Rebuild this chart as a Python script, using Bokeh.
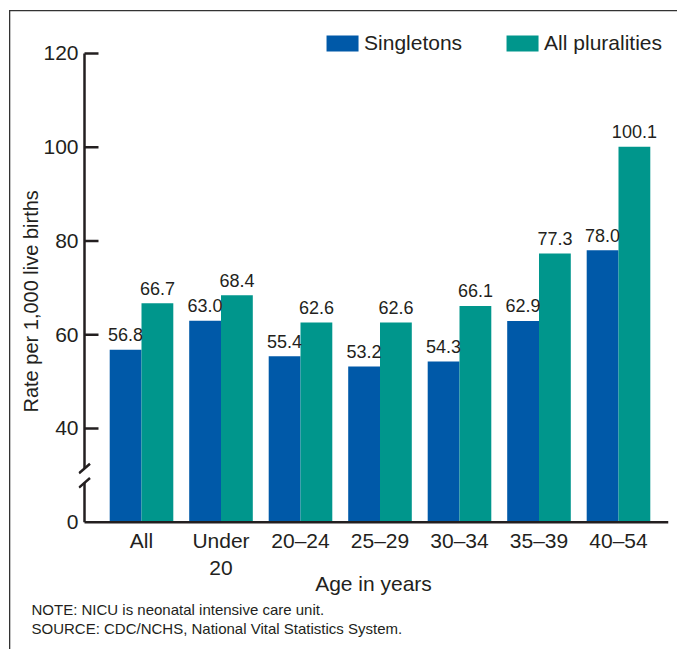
from bokeh.plotting import figure
from bokeh.models import Range1d, FixedTicker, ColumnDataSource, Title
from bokeh.transform import dodge
from bokeh.core.properties import value
from bokeh.embed import file_html
from bokeh.resources import INLINE

# ---- data ----
categories = ["All", "Under\n20", "20–24", "25–29", "30–34", "35–39", "40–54"]
singletons = [56.8, 63.0, 55.4, 53.2, 54.3, 62.9, 78.0]
all_pluralities = [66.7, 68.4, 62.6, 62.6, 66.1, 77.3, 100.1]
series_names = ["Singletons", "All pluralities"]
y_ticks = [20, 40, 60, 80, 100, 120]
y_tick_labels = ["0", "40", "60", "80", "100", "120"]
base = 20                      # axis position that stands for 0 (below the break)
break_low, break_high = 28.4, 31.45

colors = ["#0059a8", "#00968c"]
FONT = "Liberation Sans"
INK = "#231f20"

# ---- geometry of the axes (data units) ----
XMIN, XMAX = -0.7925, 6.629
YMIN, YMAX = 19.083, 125.963
XAXIS = -0.717                 # x position of the y axis line
TICK = 0.176                   # inward tick length
SLX, SLY = 0.069, 1.02         # half size of the break slashes
LABEL_LIFT = 3.24              # gap between bar top and value label centre

p = figure(width=677, height=649, output_backend="svg", toolbar_location=None,
           x_range=Range1d(XMIN, XMAX), y_range=Range1d(YMIN, YMAX),
           min_border_left=78, min_border_right=9, min_border_top=25,
           min_border_bottom=123)
p.outline_line_color = None
p.xgrid.visible = False
p.ygrid.visible = False
p.background_fill_color = "white"
p.border_fill_alpha = 0
p.styles = {"box-shadow": "inset 9px 10px 0 0 #ffffff, inset 10.3px 11.3px 0 0 #333333"}

src = ColumnDataSource(dict(
    x=list(range(len(categories))),
    s=singletons,
    a=all_pluralities,
    s_lbl=[f"{v:.1f}" for v in singletons],
    a_lbl=[f"{v:.1f}" for v in all_pluralities],
))

p.vbar(x=dodge("x", -0.2, range=p.x_range), top="s", bottom=base, width=0.4,
       source=src, fill_color=colors[0], line_color=None, legend_label=series_names[0])
p.vbar(x=dodge("x", 0.2, range=p.x_range), top="a", bottom=base, width=0.4,
       source=src, fill_color=colors[1], line_color=None, legend_label=series_names[1])

for col, lbl, off in (("s", "s_lbl", -0.2), ("a", "a_lbl", 0.2)):
    p.text(x=dodge("x", off, range=p.x_range), y=dodge(col, LABEL_LIFT, range=p.y_range),
           text=lbl, source=src,
           text_align="center", text_baseline="middle",
           text_font=value(FONT), text_font_size="18px", text_color=INK)

# ---- axis lines, ticks and break ----
p.segment(x0=[XAXIS, XAXIS], y0=[base, break_high], x1=[XAXIS, XAXIS],
          y1=[break_low, y_ticks[-1]], line_width=2.5, line_color=INK)
p.segment(x0=[XAXIS] * (len(y_ticks) - 1), x1=[XAXIS + TICK] * (len(y_ticks) - 1),
          y0=y_ticks[1:], y1=y_ticks[1:], line_width=2.5, line_color=INK)
p.segment(x0=[XAXIS], x1=[XMAX], y0=[base], y1=[base], line_width=2.5, line_color=INK)
p.segment(x0=[XAXIS - SLX] * 2, x1=[XAXIS + SLX] * 2,
          y0=[break_low - SLY, break_high - SLY], y1=[break_low + SLY, break_high + SLY],
          line_width=2.5, line_color=INK)

# ---- x axis (labels only) ----
xa = p.xaxis[0]
xa.ticker = FixedTicker(ticks=list(range(len(categories))))
xa.major_label_overrides = {i: c for i, c in enumerate(categories)}
xa.axis_line_color = None
xa.major_tick_line_color = None
xa.minor_tick_line_color = None
xa.major_tick_out = 0
xa.major_tick_in = 0
xa.major_label_standoff = 2
xa.major_label_text_font = FONT
xa.major_label_text_font_size = "21px"
xa.major_label_text_color = INK
xa.axis_label = "Age in years"
xa.axis_label_text_font = FONT
xa.axis_label_text_font_size = "21px"
xa.axis_label_text_font_style = "normal"
xa.axis_label_text_color = INK
xa.axis_label_standoff = -10

# ---- y axis (labels only) ----
ya = p.yaxis[0]
ya.ticker = FixedTicker(ticks=y_ticks)
ya.major_label_overrides = {t: l for t, l in zip(y_ticks, y_tick_labels)}
ya.axis_line_color = None
ya.major_tick_line_color = None
ya.minor_tick_line_color = None
ya.major_tick_in = 0
ya.major_tick_out = 0
ya.major_label_standoff = 0
ya.major_label_text_font = FONT
ya.major_label_text_font_size = "21px"
ya.major_label_text_color = INK

# y axis title (as a side title so it can be shifted)
p.add_layout(Title(text="Rate per 1,000 live births", align="left", offset=114,
                   standoff=-3, text_font=FONT, text_font_size="20px",
                   text_font_style="normal", text_color=INK), "left")

# notes
p.add_layout(Title(text="NOTE: NICU is neonatal intensive care unit.", align="left",
                   offset=-47, standoff=0, text_font=FONT, text_font_size="15px",
                   text_font_style="normal", text_color=INK), "below")
p.add_layout(Title(text="SOURCE: CDC/NCHS, National Vital Statistics System.", align="left",
                   offset=-47, standoff=0, text_font=FONT, text_font_size="15px",
                   text_font_style="normal", text_color=INK), "below")

# legend
lg = p.legend[0]
lg.orientation = "horizontal"
lg.location = "top_right"
lg.border_line_color = None
lg.background_fill_alpha = 0
lg.glyph_width = 40
lg.glyph_height = 20
lg.label_standoff = 2
lg.spacing = 40
lg.padding = 7
lg.margin = 6
lg.label_text_font = FONT
lg.label_text_font_size = "21px"
lg.label_text_color = INK

open("out.html", "w").write(file_html(p, INLINE))
